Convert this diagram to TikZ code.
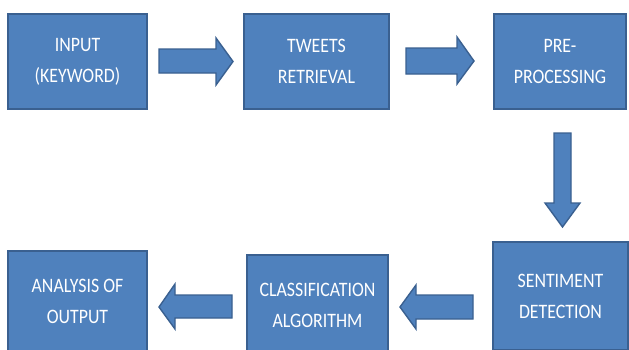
\documentclass[tikz,border=0pt]{standalone}
\usepackage{fontspec}
\setmainfont{Carlito}[FakeStretch=0.87]
\definecolor{boxblue}{HTML}{4F81BD}
\definecolor{boxedge}{HTML}{3A6090}
\begin{document}
\begin{tikzpicture}[x=1pt,y=-1pt,
  box/.style={draw=boxedge, fill=boxblue, line width=1.6pt, text=white,
    align=center, font=\fontsize{20.5}{31}\selectfont, inner sep=0pt},
  blk/.style={draw=boxedge, fill=boxblue, line width=1.4pt, line join=miter}]
\useasboundingbox (0,0) rectangle (629,349);
\fill[white] (0,0) rectangle (629,349);
\clip (0,0) rectangle (629,349);
% boxes
\node[box, minimum width=139pt, minimum height=95pt] (input) at (77.5,61.5) {INPUT\\(KEYWORD)};
\node[box, minimum width=145pt, minimum height=95pt] (tweets) at (316.5,61.5) {TWEETS\\RETRIEVAL};
\node[box, minimum width=132pt, minimum height=95pt] (pre) at (560,61.5) {PRE-\\PROCESSING};
\node[box, minimum width=135pt, minimum height=108pt] (sent) at (560.5,296) {SENTIMENT\\DETECTION};
\node[box, minimum width=141pt, minimum height=100pt] (class) at (317.5,305) {CLASSIFICATION\\ALGORITHM};
\node[box, minimum width=139pt, minimum height=101pt] (anal) at (77.5,301.5) {ANALYSIS OF\\OUTPUT};
% block arrows
\draw[blk] (159,49) -- (216,49) -- (216,38) -- (233,61.5) -- (216,85) -- (216,73) -- (159,73) -- cycle;
\draw[blk] (406,48) -- (457,48) -- (457,37) -- (474,61) -- (457,84) -- (457,74) -- (406,74) -- cycle;
\draw[blk] (554,133) -- (571,133) -- (571,203) -- (580,203) -- (562.5,227) -- (545,203) -- (554,203) -- cycle;
\draw[blk] (473,295) -- (416,295) -- (416,285) -- (400,307) -- (416,329) -- (416,319) -- (473,319) -- cycle;
\draw[blk] (232,295) -- (175,295) -- (175,284) -- (159,307) -- (175,329) -- (175,318) -- (232,318) -- cycle;
\end{tikzpicture}
\end{document}
